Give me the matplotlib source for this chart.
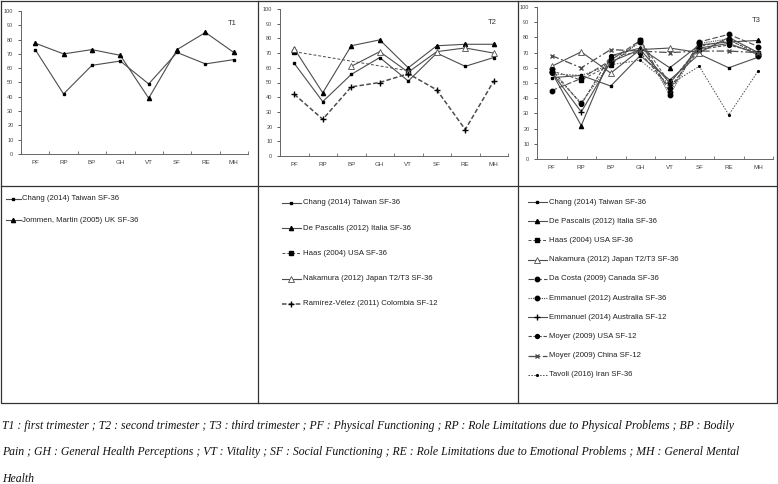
import numpy as np
import matplotlib
matplotlib.use('Agg')
import matplotlib.pyplot as plt

plt.rcParams['font.family'] = ['Liberation Sans', 'DejaVu Sans']

# categories of the SF-36 / SF-12 scales
cats = ['PF', 'RP', 'BP', 'GH', 'VT', 'SF', 'RE', 'MH']
nan = np.nan

# T1
t1_chang = [73, 42, 62, 65, 49, 71, 63, 66]
t1_jommen = [77.5, 70, 73, 69, 39, 73, 85, 71]

# T2
t2_chang = [63, 37, 55.5, 67, 51, 70, 61, 67]
t2_depascalis = [73, 43, 75, 79, 60, 75, 76, 76]
t2_haas = [71, nan, nan, nan, 58, nan, nan, nan]
t2_nakamura = [73, nan, 61, 71, 57, 71, 73.5, 70]
t2_ramirez = [42, 25, 47, 50, 56, 45, 18, 51]

# T3
t3_chang = [53.5, 55, 48, 68, 52, 69, 60, 67]
t3_depascalis = [57, 22, 68, 73, 60, 75, 77, 78]
t3_haas = [58, 52, 62, 78, 50, 74, 78, 70]
t3_nakamura = [61, 70.5, 56.5, 72, 73, 70, 80, 70]
t3_dacosta = [45, 53, 65, 78, 44, 77, 82, 74]
t3_emm2012 = [57, 37, 63, 77, 42, 76, 79, 68]
t3_emm2014 = [57, 31, 64, 72, 50, 73, 76, 69]
t3_moyer_usa = [59, 36, 68, 70, 47, 72, 75, 70]
t3_moyer_china = [68, 60, 72, 71, 70, 71, 71, 70]
t3_tavoli = [56, 55, 62, 65, 49, 61, 29, 58]

LC = '#4d4d4d'
styles = {
    'chang': dict(ls='-', marker='s', ms=2, mfc='k', mec='k'),
    'tri': dict(ls='-', marker='^', ms=3, mfc='k', mec='k'),
    'haas': dict(ls=(0, (3, 2)), marker='s', ms=3, mfc='k', mec='k', lw=0.7),
    'nakamura': dict(ls='-', marker='^', ms=3.8, mfc='white', mec=LC, mew=0.6),
    'ramirez': dict(ls=(0, (3, 1.5)), marker='+', ms=4.5, mfc='k', mec='k', lw=1.1),
    'dacosta': dict(ls=(0, (5, 2)), marker='o', ms=3.2, mfc='k', mec='k'),
    'emm2012': dict(ls=(0, (1, 1)), marker='o', ms=3.2, mfc='k', mec='k'),
    'emm2014': dict(ls='-', marker='+', ms=4.5, mfc='k', mec='k'),
    'moyer_usa': dict(ls=(0, (3, 1.5)), marker='o', ms=2.8, mfc='k', mec='k'),
    'moyer_china': dict(ls=(0, (6, 2, 1.5, 2)), marker='x', ms=3, mfc='k', mec=LC, lw=0.9),
    'tavoli': dict(ls=(0, (1.5, 1.5)), marker='.', ms=2.5, mfc='k', mec='k', lw=0.7),
}

panels = [
    ('T1', (21, 11, 248, 154), [
        ('Chang (2014) Taiwan SF-36', t1_chang, 'chang'),
        ('Jommen, Martin (2005) UK SF-36', t1_jommen, 'tri'),
    ]),
    ('T2', (280, 9, 508, 156), [
        ('Chang (2014) Taiwan SF-36', t2_chang, 'chang'),
        ('De Pascalis (2012) Italia SF-36', t2_depascalis, 'tri'),
        ('Haas (2004) USA SF-36', t2_haas, 'haas'),
        ('Nakamura (2012) Japan T2/T3 SF-36', t2_nakamura, 'nakamura'),
        ('Ramírez-Vélez (2011) Colombia SF-12', t2_ramirez, 'ramirez'),
    ]),
    ('T3', (537, 7, 773, 159), [
        ('Chang (2014) Taiwan SF-36', t3_chang, 'chang'),
        ('De Pascalis (2012) Italia SF-36', t3_depascalis, 'tri'),
        ('Haas (2004) USA SF-36', t3_haas, 'haas'),
        ('Nakamura (2012) Japan T2/T3 SF-36', t3_nakamura, 'nakamura'),
        ('Da Costa (2009) Canada SF-36', t3_dacosta, 'dacosta'),
        ('Emmanuel (2012) Australia SF-36', t3_emm2012, 'emm2012'),
        ('Emmanuel (2014) Australia SF-12', t3_emm2014, 'emm2014'),
        ('Moyer (2009) USA SF-12', t3_moyer_usa, 'moyer_usa'),
        ('Moyer (2009) China SF-12', t3_moyer_china, 'moyer_china'),
        ('Tavoli (2016) Iran SF-36', t3_tavoli, 'tavoli'),
    ]),
]

# legend placement per column: (line x0, line x1, text x, first y, step)
legend_pos = [(6, 21, 22, 199, 21), (282, 301, 303, 203, 25.2), (528, 547, 549, 202, 19.2)]

W, H = 778, 484
fig = plt.figure(figsize=(W / 100, H / 100), dpi=100)


def px_axes(l, t, r, b):
    return fig.add_axes([l / W, 1 - b / H, (r - l) / W, (b - t) / H])


x = np.arange(len(cats))
for (title, box, series), lp in zip(panels, legend_pos):
    ax = px_axes(*box)
    for label, vals, key in series:
        st = dict(styles[key])
        lw = st.pop('lw', 0.8)
        v = np.array(vals, dtype=float)
        if key == 'haas':
            ok = ~np.isnan(v)
            ax.plot(x[ok], v[ok], color=LC, lw=lw, **st)
        else:
            ax.plot(x, v, color=LC, lw=lw, **st)
    ax.set_xlim(-0.5, len(cats) - 0.5)
    ax.set_ylim(0, 100)
    ax.set_yticks(range(0, 101, 10))
    ax.set_xticks(x)
    ax.set_xticklabels(cats)
    ax.set_xticks(np.arange(-0.5, len(cats)), minor=True)
    ax.tick_params(axis='x', which='major', length=0, labelsize=4.5, pad=4, colors='#444444')
    ax.tick_params(axis='x', which='minor', length=2.5, direction='in', width=0.6, color='#666666')
    ax.tick_params(axis='y', length=2, direction='out', width=0.6, labelsize=4, colors='#444444')
    for s in ['top', 'right']:
        ax.spines[s].set_visible(False)
    for s in ['left', 'bottom']:
        ax.spines[s].set_color('#666666')
        ax.spines[s].set_linewidth(0.7)
    ax.patch.set_alpha(0)
    ax.text(0.93, 0.91, title, transform=ax.transAxes, ha='center', va='center',
            fontsize=5.5, color='#333333')

    # legend drawn in a pixel-coordinate overlay
    lg = fig.add_axes([0, 0, 1, 1])
    lg.set_xlim(0, W)
    lg.set_ylim(H, 0)
    lg.axis('off')
    x0, x1, xt, y0, dy = lp
    for i, (label, vals, key) in enumerate(series):
        st = dict(styles[key])
        lw = st.pop('lw', 0.8)
        yy = y0 + i * dy
        lg.plot([x0, x1], [yy, yy], color=LC, lw=lw, ls=st.pop('ls'), marker='none')
        lg.plot([(x0 + x1) / 2], [yy], ls='none', color=LC, **st)
        lg.text(xt, yy, label, ha='left', va='center', fontsize=5.6, color='#222222')

# table grid lines
grid = fig.add_axes([0, 0, 1, 1])
grid.set_xlim(0, W)
grid.set_ylim(H, 0)
grid.axis('off')
gkw = dict(color='#333333', lw=0.9)
grid.plot([1, 777, 777, 1, 1], [0.5, 0.5, 403, 403, 0.5], **gkw)
grid.plot([1, 777], [186, 186], **gkw)
grid.plot([258.5, 258.5], [0.5, 403], **gkw)
grid.plot([518, 518], [0.5, 403], **gkw)

caption = [
    'T1 : first trimester ; T2 : second trimester ; T3 : third trimester ; PF : Physical Functioning ; '
    'RP : Role Limitations due to Physical Problems ; BP : Bodily',
    'Pain ; GH : General Health Perceptions ; VT : Vitality ; SF : Social Functioning ; '
    'RE : Role Limitations due to Emotional Problems ; MH : General Mental',
    'Health',
]
for i, line in enumerate(caption):
    grid.text(2, 426 + i * 26.5, line, ha='left', va='center', fontsize=8.45,
              family='Liberation Serif', style='italic', color='#111111')

fig.savefig('out.png', dpi=100)
